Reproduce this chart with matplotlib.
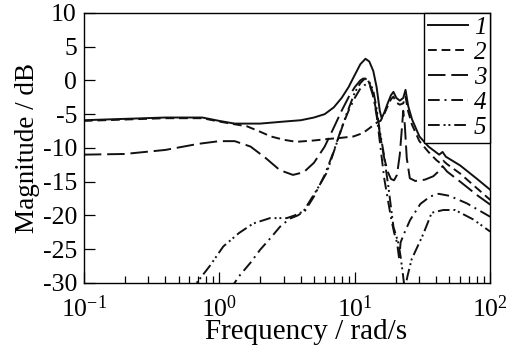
import matplotlib
matplotlib.use('agg')
import matplotlib.pyplot as plt

plt.rcParams['font.family'] = 'Liberation Serif'
plt.rcParams['mathtext.fontset'] = 'custom'
plt.rcParams['mathtext.rm'] = 'Liberation Serif'
plt.rcParams['mathtext.it'] = 'Liberation Serif:italic'

# frequency response magnitude, 5 cases (rad/s, dB)
f1 = [0.1, 0.2, 0.4, 0.75, 1.0, 1.3, 2.0, 3.0, 4.0, 5.0, 6.0, 7.0, 8.0, 9.0, 10.0,
      11.0, 12.0, 12.8, 13.7, 14.5, 15.3, 15.8, 16.5, 17.5, 18.5, 19.3, 20.3, 21.5,
      22.8, 23.7, 24.8, 26.5, 30, 35, 42, 44.5, 47, 60, 80, 100]
m1 = [-5.9, -5.7, -5.5, -5.5, -6.0, -6.4, -6.4, -6.1, -5.9, -5.5, -5.0, -4.0, -2.6, -1.0, 0.8,
      2.4, 3.2, 2.8, 1.4, -1.0, -4.5, -5.6, -4.8, -3.4, -2.2, -1.7, -2.6, -3.0,
      -2.6, -1.4, -3.8, -5.8, -8.3, -9.8, -11.0, -10.6, -11.3, -12.6, -14.6, -16.2]

f2 = [0.1, 0.2, 0.4, 0.75, 1.0, 1.3, 1.6, 2.0, 2.4, 3.0, 3.7, 5.0, 6.2, 8.0, 9.8,
      11.5, 13.0, 14.9, 15.5, 16.5, 17.5, 18.5, 19.3, 20.3, 21.5, 22.8, 23.7, 24.8,
      26.5, 30, 35, 40, 43, 45, 48, 60, 80, 100]
m2 = [-6.0, -5.8, -5.6, -5.6, -6.1, -6.5, -6.8, -7.6, -8.3, -8.8, -9.1, -8.9, -8.7, -8.5, -8.3,
      -7.8, -7.0, -6.1, -6.0, -5.0, -3.8, -2.8, -2.4, -3.3, -3.6, -3.4, -2.4, -4.6,
      -6.6, -9.0, -10.6, -11.8, -12.3, -11.9, -12.4, -13.8, -16.0, -17.7]

f3 = [0.1, 0.2, 0.4, 0.7, 1.0, 1.3, 1.7, 2.2, 2.8, 3.5, 4.2, 5.0, 6.0, 7.0, 8.0, 9.0,
      10.0, 11.0, 11.8, 12.5, 13.5, 14.5, 15.5, 16.5, 17.5, 18.5, 19.5, 20.5, 21.5,
      22.3, 22.8, 23.4, 24.2, 25.5, 28, 33, 38, 42, 44.5, 48, 60, 80, 100]
m3 = [-11.0, -10.9, -10.3, -9.4, -9.0, -9.0, -9.8, -11.5, -13.3, -14.0, -13.6, -12.2, -9.8,
      -7.0, -4.5, -2.5, -1.0, 0.0, 0.4, 0.1, -1.6, -4.8, -8.5, -11.5, -13.5, -14.6, -14.8,
      -14.0, -11.0, -7.0, -4.5, -6.5, -11.5, -14.5, -14.9, -14.7, -14.2, -13.4, -12.7,
      -13.5, -15.0, -17.0, -18.4]

f4 = [1.2, 1.4, 1.7, 2.0, 2.4, 2.8, 3.3, 3.8, 4.3, 5.0, 6.0, 7.0, 8.0, 9.0, 10.0, 11.0,
      12.2, 13.0, 13.8, 14.6, 15.4, 16.5, 17.5, 18.5, 19.5, 20.5, 21.3, 21.8, 23.0,
      25.6, 30.5, 36, 41.6, 50, 67, 100]
m4 = [-31, -29, -27, -25.1, -23.3, -21.7, -20.5, -20.0, -19.3, -17.2, -14.0, -10.5, -7.0,
      -4.5, -2.6, -1.2, -0.5, -0.9, -2.6, -5.6, -9.5, -14.5, -17.5, -20.3, -22.5, -24.0,
      -26.5, -24.0, -22.8, -20.7, -18.3, -17.2, -16.8, -17.1, -18.2, -20.2]

f5 = [0.6, 0.68, 0.85, 1.07, 1.4, 1.78, 2.37, 3.15, 3.6, 4.18, 5.25, 6.2, 7.3, 8.7, 10.0,
      11.0, 11.9, 12.8, 13.7, 14.5, 15.3, 16.2, 17.7, 19.3, 21.0, 21.8, 22.6, 23.4,
      24.5, 26.3, 32, 37, 45, 55, 75, 100]
m5 = [-32, -30, -27.5, -24.6, -22.6, -21.2, -20.4, -20.4, -20.0, -19.4, -16.2, -13.7, -9.5,
      -5.0, -1.8, -0.4, 0.3, -0.2, -1.5, -4.2, -7.5, -10.3, -15.7, -21.7, -24.1, -26.1,
      -28.5, -31, -29, -26.5, -22.8, -19.6, -19.2, -19.2, -20.6, -22.4]

curves = [
    (f1, m1, 'solid', '1'),
    (f2, m2, (0, (4.5, 2.5)), '2'),
    (f3, m3, (0, (9, 3)), '3'),
    (f4, m4, (0, (6, 2.5, 1, 2.5)), '4'),
    (f5, m5, (0, (6, 2, 1, 1.5, 1, 2)), '5'),
]

fig = plt.figure(figsize=(5.08, 3.48), dpi=100)
ax = fig.add_axes([0.165, 0.187, 0.8, 0.776])

for f, m, ls, lab in curves:
    ax.plot(f, m, color='#111111', lw=1.4, linestyle=ls, label=lab)

ax.set_xscale('log')
ax.set_xlim(0.1, 100)
ax.set_ylim(-30, 10)
ax.set_yticks(range(-30, 11, 5))
ax.set_yticklabels([str(v) for v in range(-30, 11, 5)])
ax.tick_params(which='both', direction='in', top=False, right=False, labelsize=18.5, width=0.9)
ax.tick_params(which='major', length=8)
ax.tick_params(which='minor', length=5)
ax.tick_params(axis='x', which='major', pad=9)
ax.tick_params(axis='y', which='major', pad=5)
for s in ax.spines.values():
    s.set_linewidth(1.0)

ax.set_xlabel('Frequency / rad/s', fontsize=21)
ax.xaxis.set_label_coords(0.546, -0.135)
ax.set_ylabel('Magnitude / dB', fontsize=19.5, labelpad=2)

leg = ax.legend(loc='upper right', borderaxespad=0, fancybox=False, framealpha=1,
                edgecolor='black', handlelength=1.6, handletextpad=0.25,
                labelspacing=0.1, borderpad=0.15, prop={'style': 'italic', 'size': 18})
leg.get_frame().set_linewidth(1.0)

plt.savefig('out.png', dpi=100)
